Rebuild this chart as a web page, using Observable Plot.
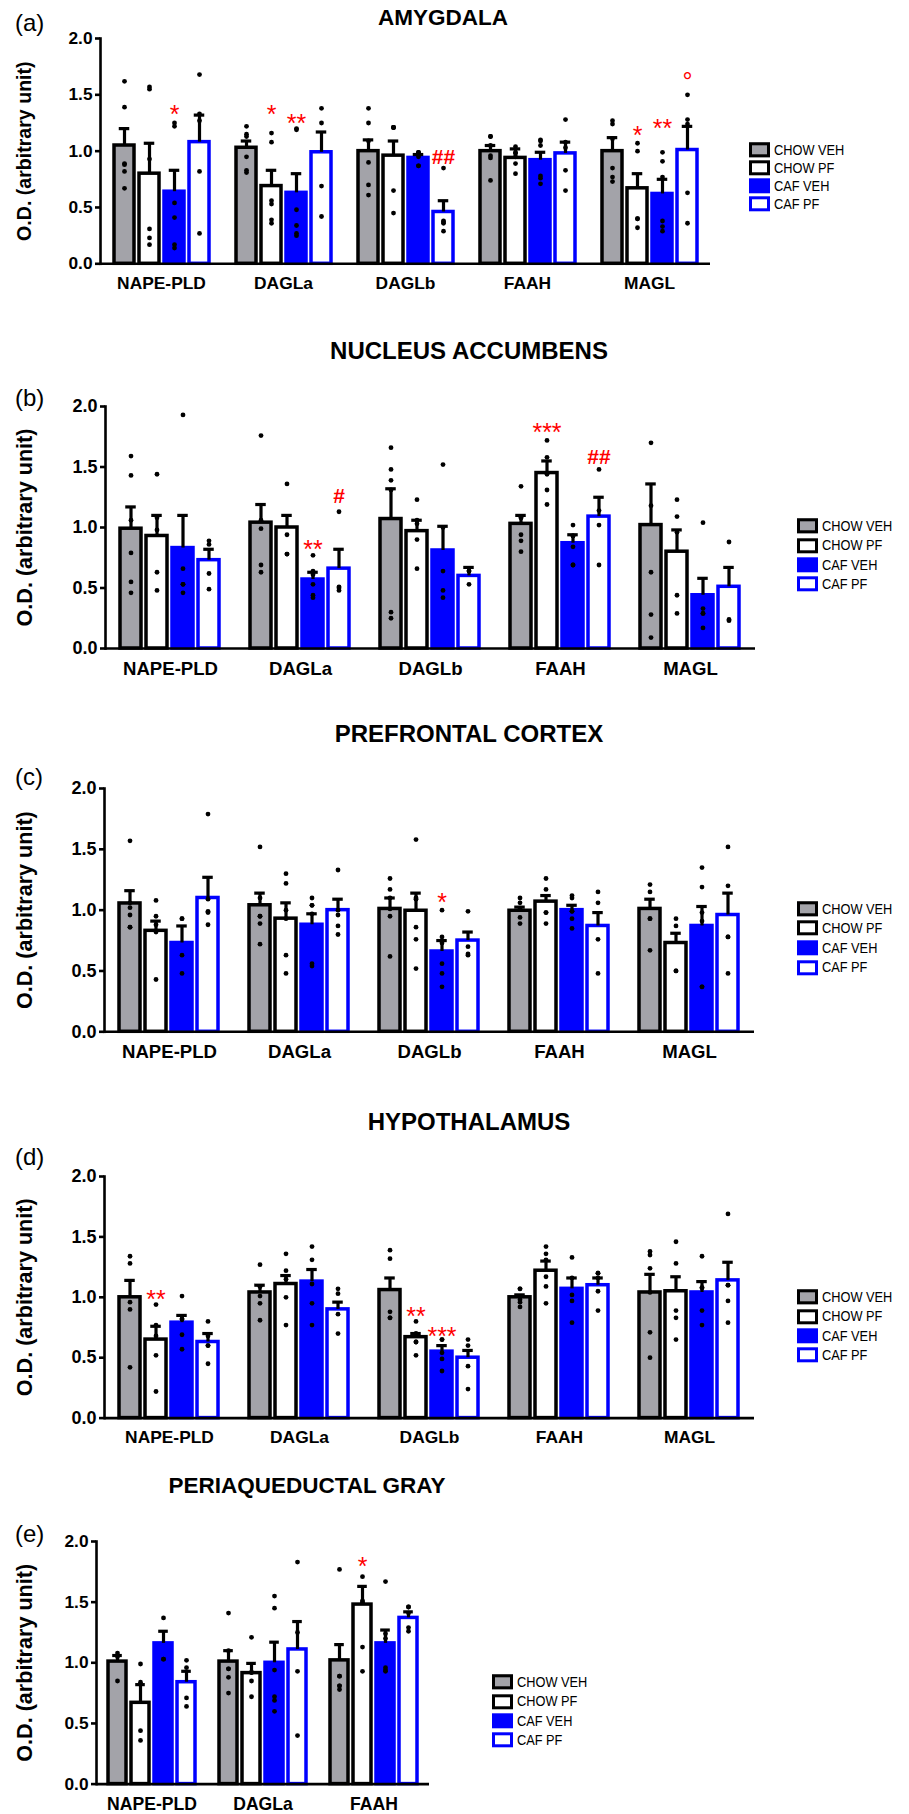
<!DOCTYPE html>
<html><head><meta charset="utf-8">
<script src="https://cdn.jsdelivr.net/npm/d3@7"></script>
<script src="https://cdn.jsdelivr.net/npm/@observablehq/plot@0.6"></script>
<style>
body{margin:0;background:#fff;}
#root{position:relative;width:909px;height:1814px;font-family:"Liberation Sans",Arial,Helvetica,sans-serif;overflow:hidden;background:#fff}
#root svg{position:absolute;left:0}
.title{position:absolute;transform:translate(-50%,-50%);font-weight:bold;white-space:nowrap;line-height:1}
.letter{position:absolute;transform:translateY(-50%);font-size:24px;line-height:1}
.lrow{position:absolute;display:flex;align-items:center;transform:translateY(-50%);white-space:nowrap}
.sw{width:21px;height:15px;box-sizing:border-box;margin-right:4px;flex:none}
.lt{font-size:15.4px;display:inline-block;transform:scaleX(0.83);transform-origin:left center;line-height:1}
</style></head>
<body><div id="root"></div>
<script>
// ---------- data ----------
const groups = ["CHOW VEH", "CHOW PF", "CAF VEH", "CAF PF"];
const enzymes5 = ["NAPE-PLD", "DAGLa", "DAGLb", "FAAH", "MAGL"];
const enzymesPAG = ["NAPE-PLD", "DAGLa", "FAAH"];
const yTicks = [0, 0.5, 1.0, 1.5, 2.0];

// (a) AMYGDALA  rows: enzyme, columns: group
const amyMean = [[1.05,0.80,0.64,1.08],[1.03,0.69,0.63,0.99],[1.00,0.96,0.94,0.46],[1.00,0.94,0.92,0.98],[1.00,0.67,0.62,1.01]];
const amySem  = [[0.15,0.27,0.19,0.24],[0.06,0.14,0.17,0.18],[0.10,0.13,0.03,0.10],[0.05,0.08,0.07,0.10],[0.12,0.13,0.13,0.21]];
const amyDots = [
  [[1.62,1.39,0.89,0.88,0.82,0.67],[1.57,1.55,0.93,0.31,0.23,0.17],[1.25,1.22,0.54,0.41,0.14,0.17],[1.68,1.33,1.27,0.82,0.27]],
  [[1.22,1.15,1.13,0.95,0.81,0.83],[1.16,1.08,0.56,0.53,0.39,0.36],[1.20,1.19,0.48,0.34,0.25,0.27],[1.38,1.25,0.69,0.42]],
  [[1.38,1.25,1.09,0.90,0.70,0.61],[1.21,1.21,1.21,0.65,0.45],[0.99,0.98,0.99,0.95,0.87,0.87],[0.85,0.37,0.36,0.38,0.29]],
  [[1.13,1.13,1.05,0.96,0.94,0.74],[1.04,0.99,0.98,0.95,0.89,0.80],[1.10,1.09,1.05,0.78,0.76,0.71],[1.28,1.08,1.03,0.83,0.65]],
  [[1.27,1.24,1.11,0.85,0.73,0.77],[1.07,1.00,0.40,0.40,0.32],[0.99,0.91,0.77,0.38,0.33,0.29],[1.50,1.24,1.28,0.63,0.36]]
];
const amySig = [["NAPE-PLD","CAF VEH","*",1.37],["DAGLa","CHOW PF","*",1.37],["DAGLa","CAF VEH","**",1.29],["DAGLb","CAF PF","##",0.95],["MAGL","CHOW PF","*",1.19],["MAGL","CAF VEH","**",1.25],["MAGL","CAF PF","°",1.67]];

// (b) NUCLEUS ACCUMBENS
const naccMean = [[0.99,0.93,0.83,0.73],[1.04,1.00,0.57,0.66],[1.07,0.97,0.81,0.60],[1.03,1.45,0.87,1.09],[1.02,0.80,0.44,0.51]];
const naccSem  = [[0.18,0.17,0.27,0.09],[0.15,0.10,0.06,0.16],[0.25,0.09,0.20,0.07],[0.07,0.10,0.07,0.16],[0.34,0.18,0.14,0.16]];
const naccDots = [
  [[1.59,1.43,1.06,0.79,0.55,0.46],[1.44,1.08,0.98,0.63,0.48],[1.93,0.66,0.53,0.53,0.46],[0.86,0.89,0.62,0.49]],
  [[1.76,1.06,0.99,0.69,0.63],[1.36,0.94,0.78,0.78],[0.77,0.64,0.61,0.53,0.42,0.44],[1.13,0.51,0.48,0.50]],
  [[1.66,1.48,1.39,1.31,0.25,0.30],[1.23,1.06,1.03,0.90,0.66],[1.52,1.00,0.64,0.48,0.42],[0.64,0.64,0.53]],
  [[1.34,1.08,1.08,0.94,0.89,0.80],[1.72,1.58,1.44,1.31,1.19],[1.02,0.93,0.93,0.84,0.69,0.69],[1.48,1.14,1.02,0.69]],
  [[1.70,1.18,0.63,0.28,0.09],[1.23,1.09,0.96,0.44,0.29],[1.04,0.33,0.29,0.29,0.17],[0.88,0.23,0.24]]
];
const naccSig = [["DAGLa","CAF VEH","**",0.86],["DAGLa","CAF PF","#",1.26],["FAAH","CHOW PF","***",1.83],["FAAH","CAF PF","##",1.58]];

// (c) PREFRONTAL CORTEX
const pfcMean = [[1.055,0.83,0.73,1.10],[1.04,0.93,0.88,1.00],[1.01,0.995,0.66,0.75],[0.995,1.07,1.00,0.87],[1.01,0.73,0.87,0.96]];
const pfcSem  = [[0.105,0.08,0.14,0.17],[0.10,0.13,0.09,0.09],[0.09,0.145,0.09,0.07],[0.03,0.05,0.04,0.11],[0.08,0.08,0.16,0.18]];
const pfcDots = [
  [[1.57,1.06,1.02,0.96,0.86,0.86],[1.08,0.95,0.88,0.82,0.43],[0.93,0.93,0.63,0.48],[1.79,1.09,0.99,0.98,0.88]],
  [[1.52,1.10,0.95,0.95,0.89,0.72],[1.30,1.22,1.00,0.93,0.63,0.48],[1.10,1.04,1.04,0.97,0.54,0.56],[1.33,1.00,0.96,0.87,0.80]],
  [[1.26,1.17,1.10,1.01,0.95,0.62],[1.58,1.09,1.10,0.86,0.76,0.52],[1.00,0.78,0.73,0.56,0.48,0.37],[0.99,0.70,0.63,0.64]],
  [[1.10,1.06,1.01,0.94,0.89],[1.26,1.17,0.98,0.98,0.89],[1.10,1.12,0.99,0.99,0.93,0.85],[1.15,1.06,0.76,0.48]],
  [[1.21,1.15,0.93,0.93,0.67],[0.93,0.87,0.50,0.50],[1.35,1.19,0.98,0.91,0.37,0.37],[1.52,1.20,0.78,0.78,0.48]]
];
const pfcSig = [["DAGLb","CAF VEH","*",1.11]];

// (d) HYPOTHALAMUS
const hypMean = [[1.00,0.65,0.79,0.63],[1.04,1.11,1.13,0.90],[1.06,0.67,0.55,0.50],[1.00,1.22,1.07,1.10],[1.04,1.05,1.04,1.14]];
const hypSem  = [[0.14,0.11,0.06,0.07],[0.06,0.07,0.10,0.06],[0.10,0.03,0.05,0.06],[0.02,0.08,0.09,0.06],[0.15,0.12,0.09,0.15]];
const hypDots = [
  [[1.34,1.28,0.96,0.90,0.42],[0.94,0.77,0.68,0.52,0.22],[1.01,0.82,0.82,0.69,0.57],[0.80,0.68,0.60,0.60,0.45]],
  [[1.27,1.09,1.09,1.01,0.95,0.81],[1.36,1.22,1.15,1.00,0.77],[1.42,1.31,1.11,0.95,0.77],[1.07,1.03,0.86,0.70]],
  [[1.39,1.32,0.88,0.83,0.83],[0.80,0.70,0.70,0.63,0.63,0.52],[0.65,0.65,0.54,0.49,0.39],[0.65,0.60,0.43,0.24]],
  [[1.07,1.07,0.98,0.96,0.92],[1.42,1.36,1.31,1.17,1.09,0.95],[1.33,1.16,1.02,0.97,0.79],[1.20,1.20,1.16,1.05,0.89]],
  [[1.38,1.35,1.24,1.04,0.71,0.50],[1.46,1.28,0.89,0.83,0.65],[1.34,1.08,1.08,0.89,0.77],[1.69,1.10,1.10,0.97,0.79]]
];
const hypSig = [["NAPE-PLD","CHOW PF","**",1.03],["DAGLb","CHOW PF","**",0.89],["DAGLb","CAF VEH","***",0.72]];

// (e) PERIAQUEDUCTAL GRAY
const pagMean = [[1.01,0.67,1.16,0.84],[1.01,0.915,1.00,1.11],[1.02,1.48,1.16,1.37]];
const pagSem  = [[0.05,0.15,0.10,0.09],[0.09,0.08,0.17,0.23],[0.13,0.15,0.11,0.05]];
const pagDots = [
  [[1.08,1.05,0.85],[0.99,0.84,0.44,0.36],[1.37,1.03,1.03],[1.02,0.96,0.71,0.64]],
  [[1.41,1.10,0.95,0.95,0.88,0.75],[1.21,0.92,0.92,0.85,0.72],[1.55,1.45,0.94,0.72,0.69,0.60],[1.83,1.25,0.93,0.40]],
  [[1.77,0.89,0.89,0.81,0.81,0.78],[1.71,1.50,1.51,1.13,0.93],[1.67,1.24,1.20,0.96,0.93,0.94],[1.46,1.46,1.41,1.26,1.29]]
];
const pagSig = [["FAAH","CHOW PF","*",1.84]];

// ---------- styles ----------
const FONT = '"Liberation Sans", Arial, Helvetica, sans-serif';
const groupFill = ["#a3a3a9", "#ffffff", "#0000ff", "#ffffff"];
const groupStroke = ["#000000", "#000000", "#0000ff", "#0000ff"];

const panels = [
  {letter:"(a)", title:"AMYGDALA", enzymes:enzymes5, means:amyMean, sems:amySem, dots:amyDots, sig:amySig,
   top:37.7, bottom:263, left:100, right:710, pi:0.2, po:0.54, cap:4.75, tickFont:17.3, xFont:17.4, yLabFont:19.6,
   titleX:443, titleY:18, titleFont:22.5, letterY:23, legX:749, legY:150, legStep:18},
  {letter:"(b)", title:"NUCLEUS ACCUMBENS", enzymes:enzymes5, means:naccMean, sems:naccSem, dots:naccDots, sig:naccSig,
   top:405.7, bottom:647.7, left:104, right:755, pi:0.186, po:0.559, cap:5.25, tickFont:18, xFont:18.6, yLabFont:21.6,
   titleX:469, titleY:351, titleFont:24, letterY:398, legX:797, legY:526, legStep:19.4},
  {letter:"(c)", title:"PREFRONTAL CORTEX", enzymes:enzymes5, means:pfcMean, sems:pfcSem, dots:pfcDots, sig:pfcSig,
   top:787.7, bottom:1031, left:103, right:755, pi:0.186, po:0.559, cap:5.25, tickFont:18, xFont:18.6, yLabFont:21.6,
   titleX:469, titleY:734, titleFont:24, letterY:777, legX:797, legY:908.5, legStep:19.6},
  {letter:"(d)", title:"HYPOTHALAMUS", enzymes:enzymes5, means:hypMean, sems:hypSem, dots:hypDots, sig:hypSig,
   top:1175.7, bottom:1417.3, left:103, right:755, pi:0.186, po:0.559, cap:5.25, tickFont:18, xFont:17.4, yLabFont:21.6,
   titleX:469, titleY:1122, titleFont:24, letterY:1157, legX:797, legY:1297, legStep:19.4},
  {letter:"(e)", title:"PERIAQUEDUCTAL GRAY", enzymes:enzymesPAG, means:pagMean, sems:pagSem, dots:pagDots, sig:pagSig,
   top:1540.7, bottom:1783.3, left:95, right:430, pi:0.2, po:0.47, cap:4.2, tickFont:17.3, xFont:17.6, yLabFont:21.6,
   titleX:307, titleY:1486, titleFont:22.5, letterY:1534, legX:492, legY:1682, legStep:19.3}
];

const root = document.getElementById("root");
const MT = 12, MB = 34;

for (const p of panels) {
  const bars = [];
  p.enzymes.forEach((e, i) => groups.forEach((g, j) => bars.push({enzyme: e, group: g, mean: p.means[i][j], sem: p.sems[i][j]})));
  const dots = [];
  p.enzymes.forEach((e, i) => groups.forEach((g, j) => p.dots[i][j].forEach(v => dots.push({enzyme: e, group: g, value: v}))));
  const sig = p.sig.map(([enzyme, group, label, y]) => ({enzyme, group, label, y}));
  const sigStar = sig.filter(d => !d.label.startsWith("#"));
  const sigHash = sig.filter(d => d.label.startsWith("#"));

  const frameH = p.bottom - p.top;
  const chart = Plot.plot({
    width: 909,
    height: MT + frameH + MB,
    marginTop: MT, marginBottom: MB, marginLeft: p.left, marginRight: 909 - p.right,
    style: {fontFamily: FONT, background: "transparent", color: "black", overflow: "visible"},
    fx: {domain: p.enzymes, padding: 0, axis: null, label: null},
    x: {domain: groups, paddingInner: p.pi, paddingOuter: p.po, axis: null},
    y: {domain: [0, 2], axis: null},
    marks: [
      ...groups.map((g, j) => Plot.barY(bars.filter(d => d.group === g), {
        fx: "enzyme", x: "group", y: "mean", fill: groupFill[j], stroke: groupStroke[j], strokeWidth: 3.5
      })),
      Plot.ruleX(bars, {fx: "enzyme", x: "group", y1: "mean", y2: d => d.mean + d.sem, stroke: "black", strokeWidth: 3.2}),
      Plot.tickY(bars, {fx: "enzyme", x: "group", y: d => d.mean + d.sem, stroke: "black", strokeWidth: 3.2, insetLeft: p.cap, insetRight: p.cap}),
      Plot.dot(dots, {fx: "enzyme", x: "group", y: "value", r: 2.4, fill: "black", stroke: "none"}),
      Plot.text(sigStar, {fx: "enzyme", x: "group", y: "y", text: "label", fill: "#ff0000", fontSize: 25, dy: 6}),
      Plot.text(sigHash, {fx: "enzyme", x: "group", y: "y", text: "label", fill: "#ff0000", fontSize: 21, fontWeight: "bold", dy: 0}),
      Plot.ruleY([0], {stroke: "black", strokeWidth: 2.6}),
      Plot.frame({anchor: "left", facetAnchor: "left", stroke: "black", strokeWidth: 2.6}),
      Plot.axisY({ticks: yTicks, tickFormat: d => d.toFixed(1), tickSize: 5, tickPadding: 3, fontSize: p.tickFont,
                  fontWeight: "bold", strokeWidth: 2.6, label: null}),
      Plot.axisFx({anchor: "bottom", tickSize: 0, tickPadding: 13, fontSize: p.xFont, fontWeight: "bold", label: null}),
      Plot.text([{enzyme: p.enzymes[0], t: "O.D. (arbitrary unit)"}], {fx: "enzyme", text: "t", frameAnchor: "left",
                  textAnchor: "middle", rotate: -90, dx: 24 - p.left, fontSize: p.yLabFont, fontWeight: "bold"})
    ]
  });
  chart.style.top = (p.top - MT) + "px";
  root.appendChild(chart);

  const t = document.createElement("div");
  t.className = "title";
  t.textContent = p.title;
  t.style.left = p.titleX + "px"; t.style.top = p.titleY + "px"; t.style.fontSize = p.titleFont + "px";
  root.appendChild(t);

  const l = document.createElement("div");
  l.className = "letter";
  l.textContent = p.letter;
  l.style.left = "15px"; l.style.top = p.letterY + "px";
  root.appendChild(l);

  groups.forEach((g, j) => {
    const row = document.createElement("div");
    row.className = "lrow";
    row.style.left = p.legX + "px";
    row.style.top = (p.legY + j * p.legStep) + "px";
    const sw = document.createElement("span");
    sw.className = "sw";
    sw.style.background = groupFill[j];
    sw.style.border = (j === 2 ? "0" : "3px") + " solid " + groupStroke[j];
    const tx = document.createElement("span");
    tx.className = "lt";
    tx.textContent = g;
    row.appendChild(sw); row.appendChild(tx);
    root.appendChild(row);
  });
}
</script></body></html>
